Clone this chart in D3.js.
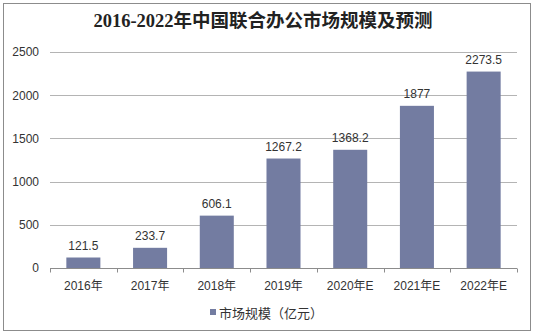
<!DOCTYPE html>
<html><head><meta charset="utf-8">
<script src="https://cdn.jsdelivr.net/npm/d3@7"></script>
<style>body{margin:0;background:#fff}svg{display:block}</style>
</head><body>
<svg id="c" width="535" height="336"></svg>
<script>
const categories = ["2016年","2017年","2018年","2019年","2020年E","2021年E","2022年E"];
const values = [121.5, 233.7, 606.1, 1267.2, 1368.2, 1877, 2273.5];
const labels = ["121.5","233.7","606.1","1267.2","1368.2","1877","2273.5"];
const yTicks = [0, 500, 1000, 1500, 2000, 2500];
const title = "2016-2022年中国联合办公市场规模及预测";
const seriesName = "市场规模（亿元）";

(function(){
const svg = d3.select("#c");
const font = "'Liberation Sans', Arial, 'Noto Sans CJK SC', sans-serif";
svg.append("rect").attr("x",3.5).attr("y",3.5).attr("width",527).attr("height",327)
  .attr("fill","#fff").attr("stroke","#8c8c8c").attr("stroke-width",1);

svg.append("text").attr("x",263).attr("y",27).attr("text-anchor","middle")
  .attr("font-family","'Liberation Serif','DejaVu Serif','Noto Sans CJK SC',serif")
  .attr("font-weight","bold").attr("font-size",18.5).attr("fill","#222").text(title);

const pl = 50, pr = 517, pt = 52, pb = 268;
const x = d3.scaleBand().domain(categories).range([pl,pr]).paddingInner(0.49).paddingOuter(0.245);
const y = d3.scaleLinear().domain([0,2500]).range([pb,pt]);

svg.append("g").selectAll("line").data(yTicks.filter(d=>d>0)).join("line")
  .attr("x1",pl).attr("x2",pr).attr("y1",d=>Math.round(y(d))+0.5).attr("y2",d=>Math.round(y(d))+0.5)
  .attr("stroke","#b4b4b4").attr("stroke-width",1);

const ya = svg.append("g").attr("transform",`translate(${pl},0)`)
  .call(d3.axisLeft(y).tickValues(yTicks).tickFormat(d3.format("d")).tickSize(0).tickPadding(11));
ya.select(".domain").remove();
ya.selectAll("text").attr("font-family",font).attr("font-size",12).attr("fill","#333");

svg.append("g").selectAll("rect").data(values).join("rect")
  .attr("x",(d,i)=>x(categories[i])).attr("width",x.bandwidth())
  .attr("y",d=>y(d)).attr("height",d=>y(0)-y(d)).attr("fill","#737ca1");

svg.append("g").selectAll("text").data(values).join("text")
  .attr("x",(d,i)=>x(categories[i])+x.bandwidth()/2).attr("y",d=>y(d)-8)
  .attr("text-anchor","middle").attr("font-family",font).attr("font-size",12).attr("fill","#333")
  .text((d,i)=>labels[i]);

const xa = svg.append("g").attr("transform",`translate(0,${pb+0.5})`);
xa.append("line").attr("x1",pl).attr("x2",pr).attr("stroke","#8c8c8c");
xa.selectAll("line.t").data(d3.range(categories.length+1)).join("line").attr("class","t")
  .attr("x1",i=>Math.round(pl+i*(pr-pl)/categories.length)+0.5)
  .attr("x2",i=>Math.round(pl+i*(pr-pl)/categories.length)+0.5)
  .attr("y1",0).attr("y2",4).attr("stroke","#8c8c8c");
xa.selectAll("text").data(categories).join("text")
  .attr("x",d=>x(d)+x.bandwidth()/2).attr("y",21).attr("text-anchor","middle")
  .attr("font-family",font).attr("font-size",12).attr("fill","#333").text(d=>d);

const lg = svg.append("g");
lg.append("rect").attr("x",210).attr("y",309).attr("width",6).attr("height",6).attr("fill","#737ca1");
lg.append("text").attr("x",219).attr("y",318).attr("font-family",font).attr("font-size",13)
  .attr("fill","#333").text(seriesName);
})();
</script>
</body></html>
